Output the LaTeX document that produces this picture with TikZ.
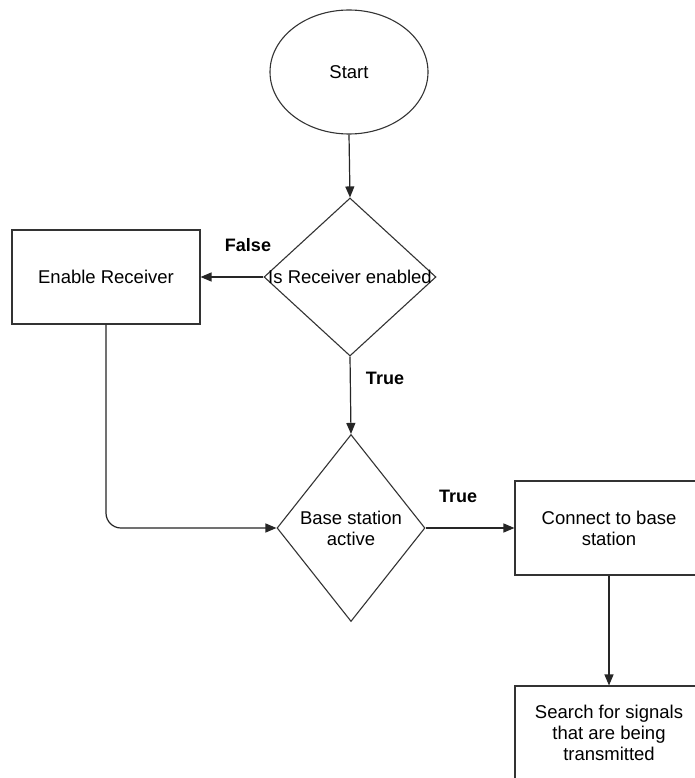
\documentclass[tikz,border=0pt]{standalone}
\usepackage{fontspec}
\setmainfont{Liberation Sans}
\usetikzlibrary{shapes.geometric,arrows.meta}
\begin{document}
\begin{tikzpicture}[x=1pt,y=-1pt,
 line/.style={draw=black!85, line width=1.2pt},
 arr/.style={line, -{Triangle[length=11pt,width=9pt]}},
 shapeline/.style={draw=black!80, line width=1.1pt},
 box/.style={shapeline, rectangle, minimum width=188pt, minimum height=94pt, inner sep=0pt, align=center, font=\fontsize{18.5}{21}\selectfont},
 dia/.style={shapeline, diamond, inner sep=0pt},
 txt/.style={align=center, font=\fontsize{18.5}{21}\selectfont, inner sep=0pt},
 lbl/.style={font=\bfseries\fontsize{18}{21}\selectfont, inner sep=0pt}]
\useasboundingbox (0,0) rectangle (695,778);
\clip (0,0) rectangle (695,778);
\fill[white] (0,0) rectangle (695,778);
\node[shapeline, ellipse, minimum width=158pt, minimum height=124pt, inner sep=0pt, font=\fontsize{18.5}{21}\selectfont] (start) at (349,72) {Start};
\node[dia, minimum width=172pt, minimum height=158pt] (d1) at (350,277) {};
\node[txt] (d1t) at (d1.center) {Is Receiver enabled};
\node[box] (er) at (106,277) {Enable Receiver};
\node[dia, minimum width=148pt, minimum height=187pt] (d2) at (351,528) {};
\node[txt] (d2t) at (d2.center) {Base station\\active};
\node[box] (cb) at (609,528) {Connect to base\\station};
\node[box] (sr) at (609,733) {Search for signals\\that are being\\transmitted};
\node[lbl] (lf) at (248,245) {False};
\node[lbl] (lt1) at (385,378) {True};
\node[lbl] (lt2) at (458,496) {True};
\draw[arr] (start.south) -- (d1.north);
\draw[arr] (d1.west) -- (er.east);
\draw[arr] (d1.south) -- (d2.north);
\draw[arr, rounded corners=15pt] (er.south) |- (d2.west);
\draw[arr] (d2.east) -- (cb.west);
\draw[arr] (cb.south) -- (sr.north);
\end{tikzpicture}
\end{document}
